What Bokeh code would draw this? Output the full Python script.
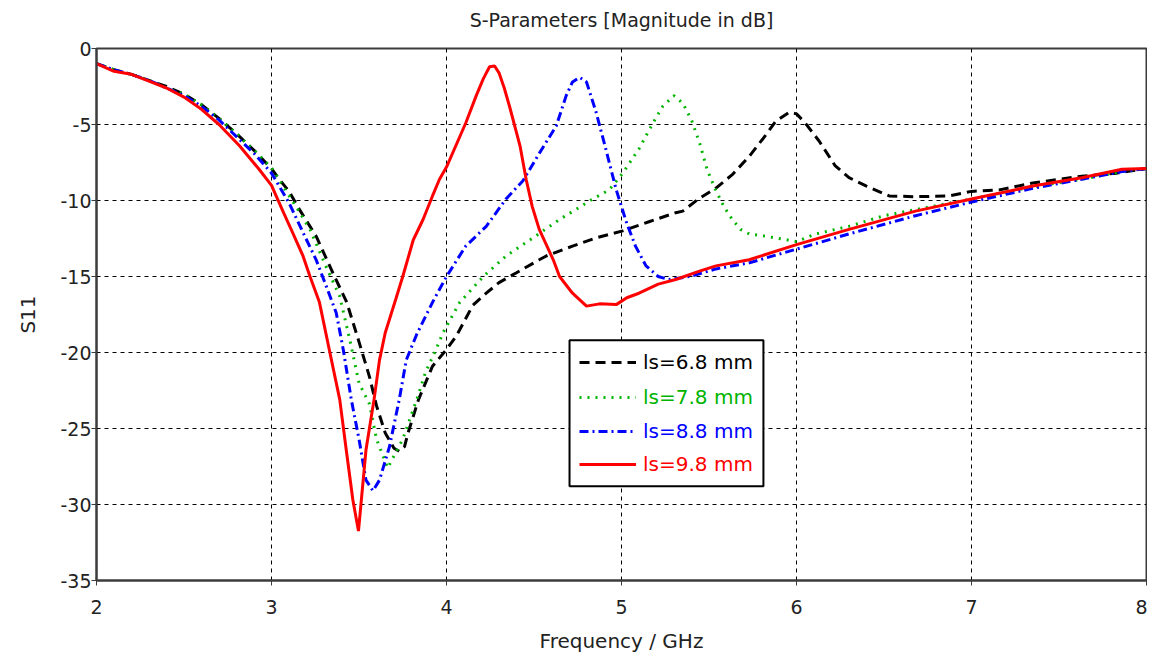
from bokeh.plotting import figure
from bokeh.models import (Range1d, FixedTicker, Legend, LegendItem, BoxAnnotation,
                          PrintfTickFormatter, LinearAxis)
from bokeh.embed import file_html
from bokeh.resources import INLINE

# ---- data ----
f_68 = [2.0, 2.1, 2.2, 2.3, 2.4, 2.5, 2.6, 2.7, 2.8, 2.9, 3.0, 3.044, 3.1, 3.16, 3.255, 3.35, 3.43,
        3.5, 3.56, 3.6, 3.65, 3.7, 3.73, 3.76, 3.78, 3.84, 3.92, 4.0, 4.057, 4.15, 4.227, 4.3, 4.4,
        4.53, 4.57, 4.72, 4.857, 5.007, 5.157, 5.31, 5.35, 5.44, 5.538, 5.633, 5.73, 5.824, 5.88,
        5.957, 6.0, 6.05, 6.13, 6.22, 6.3, 6.4, 6.53, 6.68, 6.87, 7.0, 7.16, 7.35, 7.63, 7.83, 8.0]
s_68 = [-1.0, -1.4, -1.7, -2.1, -2.5, -3.0, -3.7, -4.6, -5.6, -6.7, -7.9, -8.6, -9.4, -10.6, -12.35,
        -14.75, -16.7, -19.3, -21.6, -23.5, -25.3, -26.3, -26.5, -26.2, -25.3, -23.1, -20.9, -19.8,
        -18.9, -16.9, -16.1, -15.4, -14.75, -13.9, -13.65, -13.0, -12.45, -12.0, -11.4, -10.8, -10.7,
        -9.9, -9.2, -8.3, -7.1, -5.7, -4.8, -4.2, -4.3, -4.9, -6.1, -7.7, -8.5, -9.05, -9.7, -9.75,
        -9.7, -9.4, -9.3, -8.85, -8.4, -8.2, -7.9]

f_78 = [2.0, 2.1, 2.2, 2.3, 2.4, 2.5, 2.6, 2.7, 2.8, 2.9, 3.0, 3.14, 3.22, 3.31, 3.39, 3.45, 3.5,
        3.56, 3.6, 3.664, 3.75, 3.83, 3.88, 3.94, 3.98, 4.076, 4.21, 4.34, 4.495, 4.646, 4.836, 4.93,
        5.007, 5.1, 5.18, 5.236, 5.3, 5.35, 5.4, 5.446, 5.49, 5.538, 5.585, 5.633, 5.68, 5.73, 5.824,
        6.0, 6.11, 6.3, 6.5, 6.68, 7.0, 7.35, 7.63, 7.86, 8.0]
s_78 = [-1.0, -1.4, -1.7, -2.1, -2.6, -3.0, -3.7, -4.6, -5.6, -6.7, -7.85, -10.4, -11.9, -14.3, -16.3,
        -19.3, -22.0, -23.4, -25.7, -27.6, -25.7, -23.1, -21.3, -19.8, -18.7, -16.7, -15.0, -13.65,
        -12.45, -11.25, -9.9, -9.3, -8.2, -6.6, -4.9, -3.8, -3.1, -3.6, -4.7, -6.2, -8.0, -9.3, -10.4,
        -11.25, -11.9, -12.2, -12.35, -12.7, -12.2, -11.7, -11.0, -10.6, -9.9, -9.1, -8.6, -8.1, -7.9]

f_88 = [2.0, 2.1, 2.2, 2.3, 2.4, 2.5, 2.6, 2.7, 2.8, 2.9, 3.0, 3.1, 3.18, 3.255, 3.32, 3.37, 3.41,
        3.456, 3.5, 3.54, 3.58, 3.617, 3.674, 3.73, 3.77, 3.83, 3.92, 4.0, 4.11, 4.227, 4.34, 4.437,
        4.53, 4.627, 4.684, 4.72, 4.76, 4.8, 4.855, 4.91, 4.97, 5.03, 5.08, 5.14, 5.21, 5.27, 5.39,
        5.54, 5.73, 6.0, 6.3, 6.68, 7.0, 7.35, 7.63, 7.86, 8.0]
s_88 = [-1.0, -1.4, -1.7, -2.1, -2.6, -3.1, -3.8, -4.7, -5.8, -6.9, -8.2, -10.15, -12.1, -13.9,
        -15.85, -17.4, -19.8, -23.1, -25.7, -28.4, -29.1, -28.4, -26.2, -23.1, -20.5, -18.8, -16.7,
        -15.0, -13.0, -11.7, -9.9, -8.7, -6.9, -5.1, -3.1, -2.2, -1.9, -2.2, -4.2, -6.6, -9.3, -11.5,
        -13.0, -14.3, -15.0, -15.2, -15.0, -14.5, -14.1, -13.2, -12.2, -11.0, -10.1, -9.2, -8.6,
        -8.1, -7.9]

f_98 = [2.0, 2.1, 2.2, 2.3, 2.4, 2.5, 2.6, 2.7, 2.817, 2.93, 3.0, 3.065, 3.12, 3.18, 3.22, 3.274,
        3.33, 3.39, 3.427, 3.465, 3.497, 3.54, 3.586, 3.617, 3.65, 3.71, 3.75, 3.81, 3.866, 3.92,
        3.96, 4.0, 4.11, 4.17, 4.21, 4.246, 4.275, 4.3, 4.33, 4.36, 4.42, 4.455, 4.49, 4.53, 4.61,
        4.646, 4.72, 4.8, 4.874, 4.97, 5.03, 5.1, 5.21, 5.31, 5.446, 5.54, 5.73, 6.0, 6.3, 6.68,
        7.0, 7.35, 7.63, 7.86, 8.0]
s_98 = [-1.0, -1.5, -1.7, -2.15, -2.6, -3.2, -4.0, -5.0, -6.4, -7.96, -9.0, -10.7, -12.1, -13.65,
        -15.0, -16.7, -19.8, -23.1, -26.4, -29.7, -31.75, -26.4, -23.1, -20.5, -18.7, -16.5, -15.0,
        -12.6, -11.25, -9.7, -8.6, -7.8, -4.9, -3.1, -2.0, -1.2, -1.15, -1.6, -2.6, -3.8, -6.4,
        -8.6, -10.4, -11.9, -13.9, -15.0, -16.1, -16.95, -16.8, -16.85, -16.4, -16.1, -15.5, -15.2,
        -14.65, -14.3, -13.9, -12.9, -11.9, -10.7, -9.9, -9.05, -8.5, -7.95, -7.9]

title_text = "S-Parameters [Magnitude in dB]"
labels = ["ls=6.8 mm", "ls=7.8 mm", "ls=8.8 mm", "ls=9.8 mm"]
colors = ["#000000", "#00b400", "#0000ff", "#ff0000"]
dashes = ["10 6", "2 6", "9 4 2 4", "solid"]
x_ticks = [2, 3, 4, 5, 6, 7, 8]
y_ticks = [-35, -30, -25, -20, -15, -10, -5, 0]

FONT = "DejaVu Sans"
AX = "#3c3c3c"

p = figure(width=1147, height=657, output_backend="svg", toolbar_location=None,
           x_range=Range1d(2, 8), y_range=Range1d(-35, 0),
           min_border_left=96, min_border_right=1, min_border_top=48, min_border_bottom=77)
p.background_fill_color = "white"
p.border_fill_color = "white"
p.outline_line_color = AX
p.outline_line_width = 2

x_axis = p.below[0]
y_axis = p.left[0]

# title: label of an otherwise empty axis above the frame (no ticks, no tick labels)
top_axis = LinearAxis(ticker=FixedTicker(ticks=[]), axis_label=title_text,
                      axis_line_color=None, major_tick_line_color=None,
                      minor_tick_line_color=None, major_label_standoff=0,
                      major_tick_out=0, major_tick_in=0,
                      axis_label_standoff=18, axis_label_text_font=FONT,
                      axis_label_text_font_size="19px", axis_label_text_font_style="normal",
                      axis_label_text_color="#222222")
p.add_layout(top_axis, "above")

x_axis.ticker = FixedTicker(ticks=x_ticks)
y_axis.ticker = FixedTicker(ticks=y_ticks)
y_axis.formatter = PrintfTickFormatter(format="%d")
x_axis.formatter = PrintfTickFormatter(format="%d")
x_axis.axis_label = "Frequency / GHz"
y_axis.axis_label = "S11"
for ax in (x_axis, y_axis):
    ax.axis_label_text_font = FONT
    ax.axis_label_text_font_size = "20px"
    ax.axis_label_text_font_style = "normal"
    ax.axis_label_text_color = "#222222"
    ax.major_label_text_font = FONT
    ax.major_label_text_font_size = "19px"
    ax.major_label_text_color = "#222222"
    ax.axis_line_color = AX
    ax.axis_line_width = 2
    ax.major_tick_line_color = AX
    ax.major_tick_line_width = 1
    ax.major_tick_out = 5
    ax.major_tick_in = 0
    ax.minor_tick_line_color = None
x_axis.major_label_standoff = 14
y_axis.major_label_standoff = 0
x_axis.axis_label_standoff = 12
y_axis.axis_label_standoff = 17

for g in (p.xgrid, p.ygrid):
    g.grid_line_color = "black"
    g.grid_line_dash = "4 4"
    g.grid_line_width = 1
p.xgrid.ticker = FixedTicker(ticks=x_ticks[1:-1])
p.ygrid.ticker = FixedTicker(ticks=y_ticks[1:-1])

series = [(f_68, s_68), (f_78, s_78), (f_88, s_88), (f_98, s_98)]
renderers = []
for (fx, sy), c, d in zip(series, colors, dashes):
    r = p.line(fx, sy, line_color=c, line_width=3, line_dash=d)
    renderers.append(r)

# legend frame
box = BoxAnnotation(left=4.703, right=5.811, top=-19.2, bottom=-28.8,
                    fill_color="white", fill_alpha=1.0, line_color="black", line_alpha=1.0,
                    line_width=2)
p.add_layout(box)

row_centers = [216, 181, 147, 114]
for lab, c, r, rc in zip(labels, colors, renderers, row_centers):
    leg = Legend(items=[LegendItem(label=lab, renderers=[r])], location=(483, rc - 10),
                 padding=0, margin=0, spacing=0, glyph_width=57, glyph_height=20,
                 label_height=20, label_standoff=7, label_text_color=c,
                 label_text_font=FONT, label_text_font_size="20px",
                 border_line_alpha=0, background_fill_alpha=0)
    p.add_layout(leg, "center")

open("out.html", "w").write(file_html(p, INLINE))
